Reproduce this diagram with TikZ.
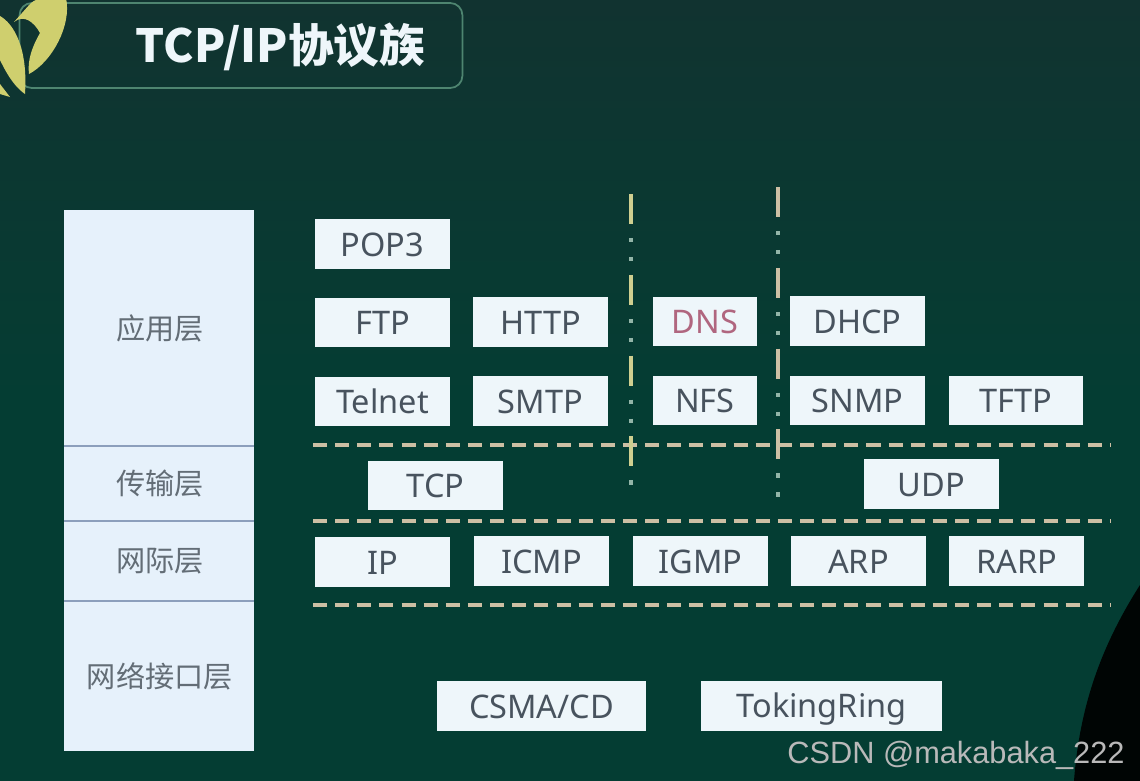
\documentclass[tikz,border=0pt]{standalone}
\usepackage{fontspec}
\setmainfont{Noto Sans}
\newfontfamily\cjk{Noto Sans CJK SC}
\newfontfamily\markfont{Liberation Sans}
\usetikzlibrary{positioning,calc,shapes.misc}
\definecolor{boardtop}{HTML}{113330}
\definecolor{boardlow}{HTML}{043D33}
\definecolor{boxfill}{HTML}{EEF6FA}
\definecolor{boxtext}{HTML}{48535E}
\definecolor{dnstext}{HTML}{B0667F}
\definecolor{layerfill}{HTML}{E6F1FB}
\definecolor{layerline}{HTML}{8C9FBC}
\definecolor{titleline}{HTML}{4E8570}
\definecolor{leaf}{HTML}{CFCF6E}
\definecolor{dashtan}{HTML}{CDBFA4}
\definecolor{dashlime}{HTML}{CFCF90}
\definecolor{dotgrey}{HTML}{93B5A8}
\tikzset{
  proto/.style={fill=boxfill,text=boxtext,inner sep=0pt,text height=13.7pt,text depth=0pt,font=\fontsize{18.5}{20}\selectfont,minimum height=1cm,minimum width=2.7cm},
  layer/.style={fill=layerfill,text=boxtext!85!white,inner sep=0pt,minimum width=3.8cm,font=\cjk\fontsize{16.6}{18}\selectfont},
  sepline/.style={dashtan,line width=2.1pt,dash pattern=on 8pt off 4.6pt},
  bardash/.style={line width=2.2pt,dash pattern=on 17pt off 29pt},
  bardots/.style={dotgrey,line width=2.6pt,dash pattern=on 2.4pt off 8.4pt on 2.4pt off 32.8pt}
}
\begin{document}
\begin{tikzpicture}[x=0.02cm,y=-0.02cm]
 \useasboundingbox (0,0) rectangle (1140,781);
 % --- board ---
 \fill[top color=boardtop,bottom color=boardlow] (0,0) rectangle (1140,400);
 \fill[boardlow] (0,400) rectangle (1140,781);
 \fill[black!92!boardlow] (1140,585) .. controls (1105,640) and (1080,700) .. (1074,781) -- (1140,781) -- cycle;
 % --- title ---
 \node[draw=titleline,line width=1pt,rounded corners=7pt,minimum width=8.86cm,minimum height=1.7cm,inner sep=0pt] (titlebox) at (241,45.5) {};
 \fill[leaf] (30,4) .. controls (38,-4) and (55,-6) .. (66,-2) .. controls (72,25) and (52,62) .. (29,74) .. controls (27,60) and (33,45) .. (40,33) .. controls (34,22) and (24,14) .. (14,22) -- cycle;
 \fill[leaf] (0,16) .. controls (14,24) and (28,48) .. (25,94) .. controls (12,85) and (4,68) .. (0,60) -- cycle;
 \fill[leaf] (0,84) -- (10,97) -- (0,94) -- cycle;
 \node[text=boxfill,font=\cjk\bfseries\fontsize{26}{28}\selectfont] (titletext) at (280.5,47) {TCP/IP协议族};
 % --- layers ---
 \foreach \name/\ytop/\ybot/\txt in {lapp/210/446/应用层,ltrans/446/521/传输层,lnet/521/601/网际层,llink/601/751/网络接口层}
   \node[layer,minimum height={(\ybot-\ytop)*0.02cm}] (\name) at (159,{(\ytop+\ybot)/2}) {\hspace{1pt}\raisebox{-1pt}{\txt}};
 \foreach \i/\yy in {a/446,b/521,c/601} {
   \coordinate (l\i) at (64,\yy); \coordinate (r\i) at (254,\yy);
   \draw[layerline,line width=1.1pt] (l\i)--(r\i);
 }
 % --- separators ---
 \foreach \i/\yy in {a/445,b/521,c/605} {
   \coordinate (sl\i) at (313,\yy); \coordinate (sr\i) at (1110,\yy);
   \draw[sepline] (sl\i)--(sr\i);
 }
 % --- vertical bars ---
 \coordinate (vat) at (631,194); \coordinate (vab) at (631,490);
 \coordinate (vbt) at (778,187); \coordinate (vbb) at (778,500);
 \draw[bardash,dashlime] (vat)--(vab);
 \draw[bardash,dashtan] (vbt)--(vbb);
 \draw[bardots] ($(vat)+(0,44)$)--(vab);
 \draw[bardots] ($(vbt)+(0,44)$)--(vbb);
 % --- protocols ---
 \foreach \name/\xx/\yy/\txt in {pop/382.5/244/POP3,ftp/382.5/322.5/FTP,http/540.5/322/HTTP,dhcp/857.5/321/DHCP,
   telnet/382.5/401.5/Telnet,smtp/540.5/401/SMTP,snmp/857.5/400.5/SNMP,tftp/1016/400.5/TFTP,
   tcp/435.5/485.5/TCP,udp/931.5/484/UDP,ip/382.5/562/IP,icmp/541.5/561/ICMP,igmp/700.5/561/IGMP,arp/858.5/561/ARP,rarp/1016.5/561/RARP}
   \node[proto] (\name) at (\xx,\yy) {\txt};
 \node[proto,minimum width=2.08cm,text=dnstext] (dns) at (705,321.5) {DNS};
 \node[proto,minimum width=2.08cm] (nfs) at (705,400.5) {NFS};
 \node[proto,minimum width=4.18cm] (csma) at (541.5,706) {CSMA/CD};
 \node[proto,minimum width=4.82cm] (token) at (821.5,705.5) {TokingRing};
 % --- mark ---
 \node[text=gray!55!white,font=\markfont\fontsize{17.5}{19}\selectfont,inner sep=0pt] (mark) at (956,755) {CSDN @makabaka\_222};
\end{tikzpicture}
\end{document}
